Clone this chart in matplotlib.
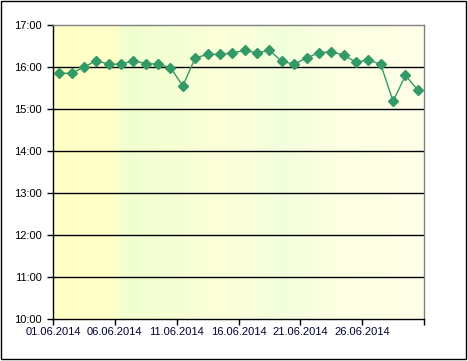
import matplotlib
matplotlib.use("Agg")
import matplotlib.pyplot as plt
import matplotlib.dates as mdates
from matplotlib.colors import LinearSegmentedColormap
from matplotlib.patches import Rectangle
import numpy as np
import datetime as dt

plt.rcParams['font.family'] = ['Liberation Sans', 'DejaVu Sans']

dates = [dt.date(2014, 6, d) for d in range(1, 31)]
times = ["15:51", "15:51", "16:00", "16:09", "16:04", "16:04", "16:09", "16:05", "16:04", "15:59",
         "15:33", "16:13", "16:18", "16:18", "16:20", "16:24", "16:20", "16:24", "16:08", "16:04",
         "16:13", "16:20", "16:22", "16:17", "16:07", "16:10", "16:04", "15:11", "15:48", "15:27"]
y_ticks = ["10:00", "11:00", "12:00", "13:00", "14:00", "15:00", "16:00", "17:00"]
x_tick_dates = [dt.date(2014, 6, d) for d in (1, 6, 11, 16, 21, 26)] + [dt.date(2014, 7, 1)]
x_tick_labels = ["01.06.2014", "06.06.2014", "11.06.2014", "16.06.2014", "21.06.2014", "26.06.2014", ""]

def to_hours(s):
    h, m = s.split(":")
    return int(h) + int(m) / 60.0

yvals = [to_hours(t) for t in times]
xvals = [mdates.date2num(d) + 0.5 for d in dates]
ytick_vals = [to_hours(t) for t in y_ticks]

W, H = 468, 361
fig = plt.figure(figsize=(W / 100, H / 100), dpi=100)
ax = fig.add_axes([53 / W, (H - 319) / H, (424 - 53) / W, (319 - 25) / H])

x0 = mdates.date2num(dt.date(2014, 6, 1))
x1 = mdates.date2num(dt.date(2014, 7, 1))

cmap = LinearSegmentedColormap.from_list("bg", [
    (0.0, "#FFFFC6"), (0.17, "#FFFFC8"), (0.19, "#F1FFD0"), (0.35, "#F6FFD4"),
    (0.45, "#FCFFD8"), (0.55, "#F8FFDC"), (0.62, "#F2FFDC"), (0.75, "#FCFFE0"),
    (1.0, "#FFFFE8")])
grad = np.linspace(0, 1, 256).reshape(1, -1)
ax.imshow(grad, extent=[x0, x1, 10, 17], aspect="auto", cmap=cmap, zorder=0)

ax.set_xlim(x0, x1)
ax.set_ylim(10, 17)

for yv in ytick_vals[1:-1]:
    ax.axhline(yv, color="black", lw=1, zorder=1)

ax.plot(xvals, yvals, color="#339966", lw=1, marker="D", markersize=5.5,
        markerfacecolor="#339966", markeredgecolor="#339966", zorder=3)

ax.set_yticks(ytick_vals)
ax.set_yticklabels(y_ticks, fontsize=8, color="black")
ax.set_xticks([mdates.date2num(d) for d in x_tick_dates])
ax.set_xticklabels(x_tick_labels, fontsize=8, color="#000033")
ax.tick_params(direction="out", length=4, width=1)
ax.tick_params(axis="y", pad=4)
ax.tick_params(axis="x", pad=2)

for side in ("top", "right"):
    ax.spines[side].set_color("#808080")
    ax.spines[side].set_linewidth(1)
for side in ("left", "bottom"):
    ax.spines[side].set_color("black")
    ax.spines[side].set_linewidth(1)

fig.patches.append(Rectangle((0.5 / W, 2.5 / H), (W - 2.5) / W, (H - 3) / H,
                             transform=fig.transFigure, fill=False,
                             edgecolor="black", lw=1))

fig.savefig("out.png", dpi=100)
